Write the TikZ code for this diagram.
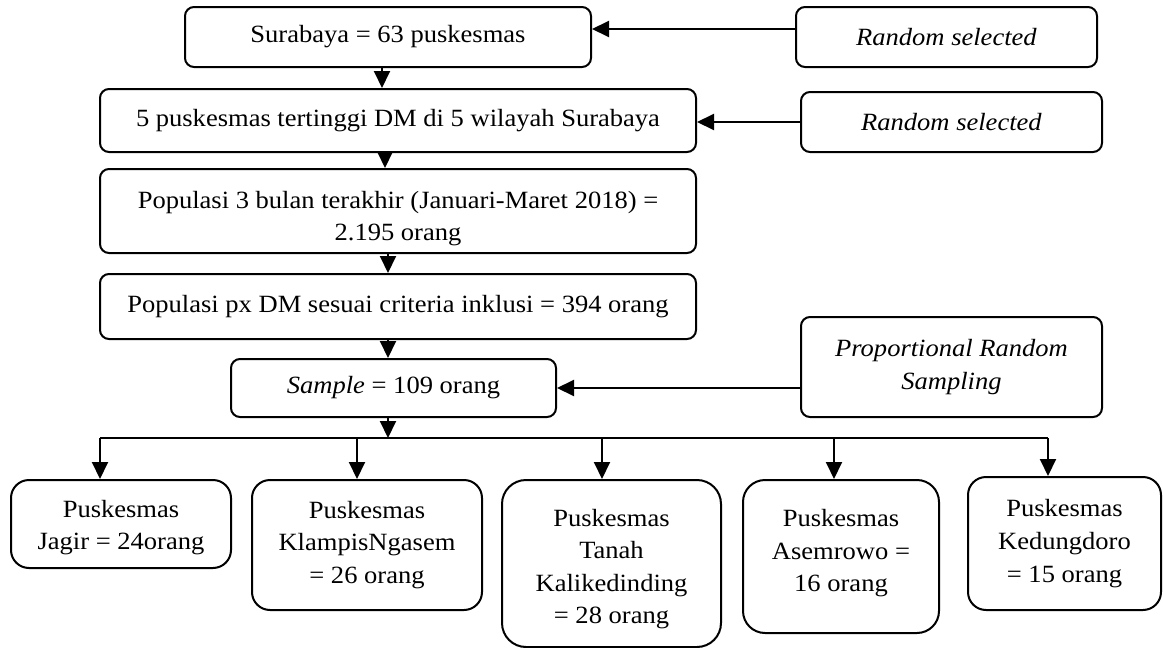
\documentclass[tikz,border=0pt]{standalone}
\usepackage{fontspec}
\setmainfont{Liberation Serif}[FakeStretch=1.07]
\usetikzlibrary{arrows.meta}
\newcommand\mvtext[2]{\raisebox{#1}[\height][\depth]{\begin{tabular}{@{}c@{}}#2\end{tabular}}}
\begin{document}
\begin{tikzpicture}[x=0.5pt,y=-0.5pt,
  every node/.style={font=\fontsize{12.4pt}{16.3pt}\selectfont, align=center, inner sep=0pt},
  box/.style={draw, line width=1pt, rounded corners=4.5pt},
  kid/.style={draw, line width=1pt, rounded corners=9pt},
  arr/.style={line width=1pt, -{Triangle[length=8.5pt,width=8pt]}},
  bline/.style={line width=0.9pt}]
\useasboundingbox (0,0) rectangle (1163,648);
% main column
\node[box, minimum width=203pt, minimum height=30pt] (b1) at (388,37) {Surabaya = 63 puskesmas};
\node[box, minimum width=298pt, minimum height=31.5pt] (b2) at (398,120.5) {5 puskesmas tertinggi DM di 5 wilayah Surabaya};
\node[box, minimum width=298pt, minimum height=42pt] (b3) at (398,211) {\mvtext{-3.5pt}{Populasi 3 bulan terakhir (Januari-Maret 2018) =\\2.195 orang}};
\node[box, minimum width=298pt, minimum height=32.5pt] (b4) at (398,306.5) {Populasi px DM sesuai criteria inklusi = 394 orang};
\node[box, minimum width=162.5pt, minimum height=29pt] (b5) at (393.5,388) {\textit{Sample} = 109 orang};
% side boxes
\node[box, minimum width=150.5pt, minimum height=30pt] (rs1) at (946.5,37) {\textit{Random selected}};
\node[box, minimum width=150.5pt, minimum height=30pt] (rs2) at (951.5,122) {\textit{Random selected}};
\node[box, minimum width=150.5pt, minimum height=50pt] (prs) at (951.5,367) {\textit{Proportional Random}\\\textit{Sampling}};
% children
\node[kid, minimum width=110pt, minimum height=44pt] (c1) at (121,524) {\mvtext{-1.5pt}{Puskesmas\\Jagir = 24orang}};
\node[kid, minimum width=115pt, minimum height=65pt] (c2) at (367,545) {Puskesmas\\KlampisNgasem\\= 26 orang};
\node[kid, minimum width=109.5pt, minimum height=83.5pt, rounded corners=12pt] (c3) at (611.5,563.5) {\mvtext{-2.5pt}{Puskesmas\\Tanah\\Kalikedinding\\= 28 orang}};
\node[kid, minimum width=98pt, minimum height=76.5pt, rounded corners=11pt] (c4) at (841,556.5) {\mvtext{2pt}{Puskesmas\\Asemrowo =\\16 orang}};
\node[kid, minimum width=96.5pt, minimum height=66.5pt] (c5) at (1064.5,543.5) {Puskesmas\\Kedungdoro\\= 15 orang};
% side arrows
\draw[arr] ([yshift=4pt]rs1.west) -- ([yshift=4pt]rs1.west -| b1.east);
\draw[arr] (rs2.west) -- (rs2.west -| b2.east);
\draw[arr] ([yshift=-10.5pt]prs.west) -- ([yshift=-10.5pt]prs.west -| b5.east);
% vertical arrows
\draw[arr] ([xshift=-3pt]b1.south) -- ([xshift=-3pt]b1.south |- b2.north);
\draw[arr] ([xshift=-6.5pt]b2.south) -- ([xshift=-6.5pt]b2.south |- b3.north);
\draw[arr] ([xshift=-5pt]b3.south) -- ([xshift=-5pt]b3.south |- b4.north);
\draw[arr] ([xshift=-5pt]b4.south) -- ([xshift=-5pt]b4.south |- b5.north);
% branch
\coordinate (br) at (388,438);
\coordinate (j1) at (100,438);
\coordinate (j2) at (357,438);
\coordinate (j3) at (602,438);
\coordinate (j4) at (834,438);
\coordinate (j5) at (1048,438);
\draw[arr] ([xshift=-2.75pt]b5.south) -- (br);
\draw[bline] (j1) -- (j5);
\draw[arr] (j1) -- (j1 |- c1.north);
\draw[arr] (j2) -- (j2 |- c2.north);
\draw[arr] (j3) -- (j3 |- c3.north);
\draw[arr] (j4) -- (j4 |- c4.north);
\draw[arr] (j5) -- (j5 |- c5.north);
\end{tikzpicture}
\end{document}
